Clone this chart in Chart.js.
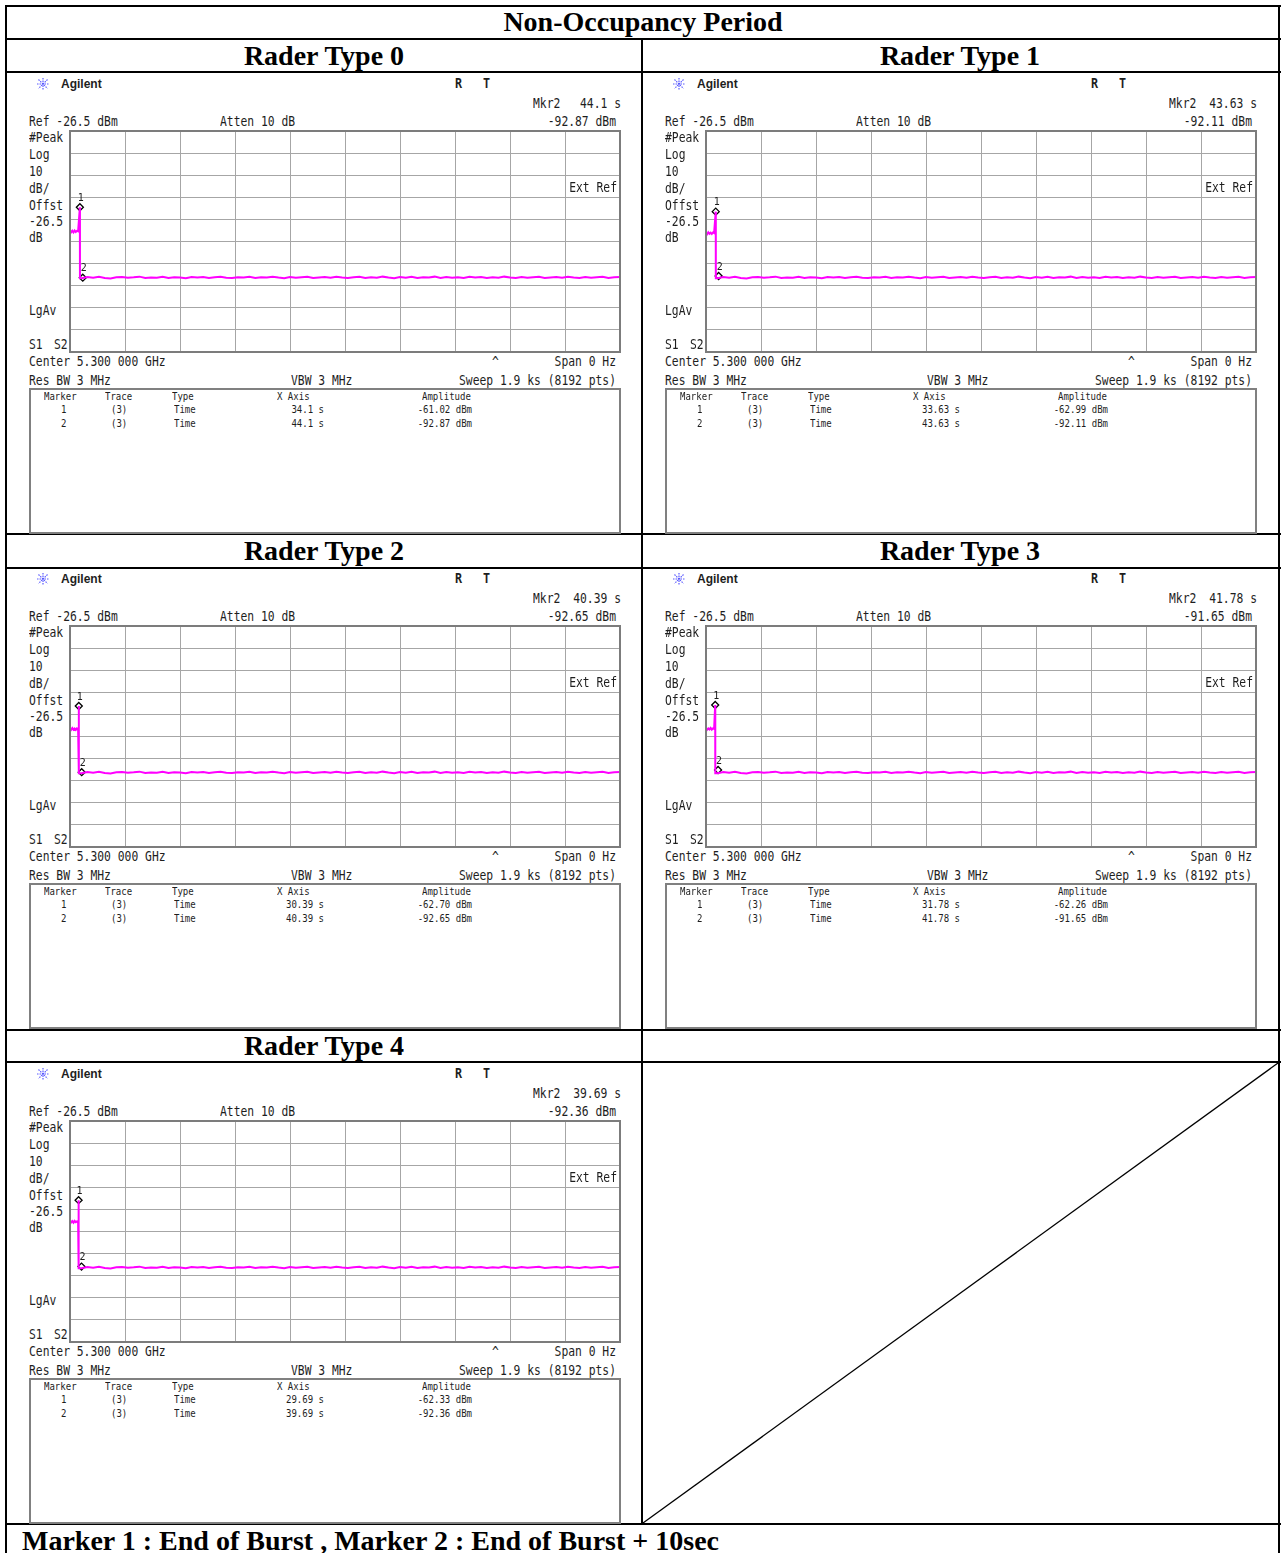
<!DOCTYPE html>
<html>
<head>
<meta charset="utf-8">
<script src="https://cdn.jsdelivr.net/npm/chart.js@4.4.1/dist/chart.umd.min.js"></script>
<style>
body{margin:0;background:#fff}
#page{position:relative;width:1281px;height:1553px;overflow:hidden;background:#fff}
.ln{position:absolute;background:#000}
.ttl{position:absolute;font:bold 28px "Liberation Serif","Times New Roman",serif;white-space:nowrap;line-height:30px;color:#000}
.c{transform:translate(-50%,-50%)}
.t{position:absolute;font:13.5px "DejaVu Sans Mono",monospace;line-height:14px;white-space:nowrap;color:#1e1e1e;transform-origin:0 50%;transform:scaleX(0.84)}
.s{font-size:11px;line-height:12px;transform:scaleX(0.82)}
.b{font:bold 12px "Liberation Sans",Arial,sans-serif;transform:none}
.bm{font-weight:bold;font-size:14px}
.r{transform-origin:100% 50%;transform:translateX(-100%) scaleX(0.84)}
.s.r{transform:translateX(-100%) scaleX(0.82)}
canvas{position:absolute}
.box{position:absolute;border:2px solid #808080;box-sizing:border-box}
</style>
</head>
<body>
<div id="page"></div>
<script>
// marker readouts of the five screenshots
const titles = ['Rader Type 0', 'Rader Type 1', 'Rader Type 2', 'Rader Type 3', 'Rader Type 4'];
const mkr1Time = [34.1, 33.63, 30.39, 31.78, 29.69];
const mkr1Amp = [-61.02, -62.99, -62.70, -62.26, -62.33];
const mkr2Time = [44.1, 43.63, 40.39, 41.78, 39.69];
const mkr2Amp = [-92.87, -92.11, -92.65, -91.65, -92.36];

// trace level while the burst is on
const burstTime = [0, 4, 8, 12, 16, 20, 24, 28];
const burstAmp = [
    [-71.4, -72.3, -71.6, -72.4, -71.5, -72.2, -71.7, -71.9],
    [-72.4, -73.2, -72.3, -73.0, -72.5, -73.1, -72.4, -72.7],
    [-72.8, -73.5, -72.7, -73.4, -72.9, -73.5, -72.8, -73.1],
    [-72.7, -73.4, -72.8, -73.3, -72.6, -73.4, -72.8, -73.0],
    [-71.6, -72.4, -71.8, -72.5, -71.7, -72.3, -71.9, -72.1]
];

// noise floor after the burst (same on every plot)
const floorTime = [40, 60, 80, 100, 120, 140, 160, 180, 200, 220, 240, 260, 280, 300, 320, 340, 360, 380,
    400, 420, 440, 460, 480, 500, 520, 540, 560, 580, 600, 620, 640, 660, 680, 700, 720, 740, 760,
    780, 800, 820, 840, 860, 880, 900, 920, 940, 960, 980, 1000, 1020, 1040, 1060, 1080, 1100, 1120,
    1140, 1160, 1180, 1200, 1220, 1240, 1260, 1280, 1300, 1320, 1340, 1360, 1380, 1400, 1420, 1440,
    1460, 1480, 1500, 1520, 1540, 1560, 1580, 1600, 1620, 1640, 1660, 1680, 1700, 1720, 1740, 1760,
    1780, 1800, 1820, 1840, 1860, 1880, 1900];
const floorAmp = [-93.1, -92.6, -92.9, -92.5, -93.0, -93.2, -92.7, -92.6, -92.9, -92.7, -92.4, -93.0,
    -92.8, -92.9, -92.5, -93.0, -92.7, -92.8, -93.1, -92.6, -92.8, -92.6, -93.0, -92.7,
    -92.5, -92.9, -93.0, -92.7, -92.8, -92.5, -93.0, -92.7, -92.8, -92.4, -92.8, -93.1,
    -92.6, -92.9, -92.7, -92.5, -93.0, -92.8, -92.6, -92.9, -92.5, -92.8, -93.0, -92.7,
    -92.5, -93.0, -92.7, -92.9, -92.4, -92.8, -93.1, -92.6, -92.9, -92.5, -93.0, -92.7,
    -92.8, -92.4, -93.0, -92.6, -92.9, -92.7, -93.0, -92.5, -92.8, -92.6, -93.0, -92.7,
    -92.9, -92.4, -92.8, -93.0, -92.6, -92.9, -92.7, -92.5, -93.0, -92.8, -92.6, -92.9,
    -92.5, -92.8, -93.0, -92.6, -92.9, -92.7, -92.5, -93.0, -92.7, -92.6];

// analyzer grid: 1.9 ks sweep, ref -26.5 dBm, 10 dB/div
const xGrid = [0, 190, 380, 570, 760, 950, 1140, 1330, 1520, 1710, 1900];
const yGrid = [-126.5, -116.5, -106.5, -96.5, -86.5, -76.5, -66.5, -56.5, -46.5, -36.5, -26.5];
const sideLabels = [['#Peak', 137], ['Log', 154], ['10', 171], ['dB/', 188], ['Offst', 205], ['-26.5', 221], ['dB', 237], ['LgAv', 310]];

const page = document.getElementById('page');

function el(tag, cls, x, y, text) {
    const e = document.createElement(tag);
    if (cls) e.className = cls;
    e.style.left = x + 'px';
    e.style.top = y + 'px';
    if (text !== undefined) e.textContent = text;
    page.appendChild(e);
    return e;
}
function txt(x, y, s, cls) {
    return el('div', 't' + (cls ? ' ' + cls : ''), x, y - 7, s);
}
function small(x, y, s, right) {
    return el('div', 't s' + (right ? ' r' : ''), x, y - 6, s);
}
function line(x, y, w, h) {
    const e = el('div', 'ln', x, y);
    e.style.width = w + 'px';
    e.style.height = h + 'px';
}

// table frame
[5, 38, 71, 533, 567, 1029, 1061, 1523].forEach(y => line(5, y, 1276, 2));
line(5, 5, 2, 1548);
line(1278, 5, 2, 1548);
line(641, 38, 2, 1487);

el('div', 'ttl c', 643, 22, 'Non-Occupancy Period');
el('div', 'ttl', 22, 1526, 'Marker 1 : End of Burst , Marker 2 : End of Burst + 10sec');

// empty cell diagonal
const svgNS = 'http://www.w3.org/2000/svg';
const diag = document.createElementNS(svgNS, 'svg');
diag.setAttribute('width', 1281);
diag.setAttribute('height', 1553);
diag.style.position = 'absolute';
diag.style.left = '0px';
diag.style.top = '0px';
diag.innerHTML = '<line x1="643" y1="1523" x2="1278" y2="1063" stroke="#000" stroke-width="1.3"/>';
page.appendChild(diag);

const markerNumbers = {
    id: 'markerNumbers',
    afterDatasetsDraw(chart) {
        const ctx = chart.ctx;
        ctx.save();
        ctx.font = '10px "DejaVu Sans Mono"';
        ctx.fillStyle = '#1e1e1e';
        ctx.textBaseline = 'bottom';
        chart.getDatasetMeta(1).data.forEach((pt, i) => ctx.fillText(String(i + 1), pt.x - 2, pt.y - 4));
        ctx.restore();
    }
};
const frame = {
    id: 'frame',
    afterDraw(chart) {
        const a = chart.chartArea, ctx = chart.ctx;
        ctx.save();
        ctx.strokeStyle = '#7c7c7c';
        ctx.lineWidth = 2;
        ctx.strokeRect(a.left, a.top, a.right - a.left, a.bottom - a.top);
        ctx.restore();
    }
};

function drawPanel(i) {
    const ox = (i % 2) * 636, oy = Math.floor(i / 2) * 495;
    el('div', 'ttl c', 324 + ox, 56 + oy, titles[i]);

    // Agilent logo
    const logo = document.createElementNS(svgNS, 'svg');
    logo.setAttribute('width', 14);
    logo.setAttribute('height', 14);
    logo.style.position = 'absolute';
    logo.style.left = (36 + ox) + 'px';
    logo.style.top = (77 + oy) + 'px';
    logo.innerHTML = '<g stroke="#5a5aff" stroke-width="1.2" stroke-dasharray="1.5 1">' +
        '<line x1="7" y1="1" x2="7" y2="13"/><line x1="1" y1="7" x2="13" y2="7"/>' +
        '<line x1="2.5" y1="2.5" x2="11.5" y2="11.5"/><line x1="11.5" y1="2.5" x2="2.5" y2="11.5"/></g>';
    page.appendChild(logo);
    txt(61 + ox, 84 + oy, 'Agilent', 'b');
    txt(455 + ox, 83 + oy, 'R', 'bm');
    txt(483 + ox, 83 + oy, 'T', 'bm');

    txt(533 + ox, 103 + oy, 'Mkr2');
    txt(621 + ox, 103 + oy, mkr2Time[i] + ' s', 'r');
    txt(29 + ox, 121 + oy, 'Ref -26.5 dBm');
    txt(220 + ox, 121 + oy, 'Atten 10 dB');
    txt(616 + ox, 121 + oy, mkr2Amp[i].toFixed(2) + ' dBm', 'r');
    sideLabels.forEach(s => txt(29 + ox, s[1] + oy, s[0]));
    txt(29 + ox, 344 + oy, 'S1');
    txt(54 + ox, 344 + oy, 'S2');

    txt(29 + ox, 361 + oy, 'Center 5.300 000 GHz');
    txt(492 + ox, 362 + oy, '^');
    txt(616 + ox, 361 + oy, 'Span 0 Hz', 'r');
    txt(29 + ox, 380 + oy, 'Res BW 3 MHz');
    txt(291 + ox, 380 + oy, 'VBW 3 MHz');
    txt(616 + ox, 380 + oy, 'Sweep 1.9 ks (8192 pts)', 'r');

    const box = el('div', 'box', 29 + ox, 388 + oy);
    box.style.width = '592px';
    box.style.height = '146px';
    small(44 + ox, 397 + oy, 'Marker');
    small(105 + ox, 397 + oy, 'Trace');
    small(172 + ox, 397 + oy, 'Type');
    small(277 + ox, 397 + oy, 'X Axis');
    small(422 + ox, 397 + oy, 'Amplitude');
    [[mkr1Time[i], mkr1Amp[i]], [mkr2Time[i], mkr2Amp[i]]].forEach((m, k) => {
        const y = 410 + k * 14 + oy;
        small(61 + ox, y, String(k + 1));
        small(111 + ox, y, '(3)');
        small(174 + ox, y, 'Time');
        small(324 + ox, y, m[0] + ' s', true);
        small(472 + ox, y, m[1].toFixed(2) + ' dBm', true);
    });

    const cv = document.createElement('canvas');
    cv.width = 552;
    cv.height = 223;
    cv.style.left = (69 + ox) + 'px';
    cv.style.top = (130 + oy) + 'px';
    page.appendChild(cv);
    // Ext Ref sits on top of the plot
    txt(617 + ox, 187 + oy, 'Ext Ref', 'r');

    const trace = burstTime.map((t, k) => ({ x: t, y: burstAmp[i][k] }));
    trace.push({ x: mkr1Time[i], y: mkr1Amp[i] });
    trace.push({ x: mkr1Time[i] + 0.3, y: floorAmp[0] });
    floorTime.forEach((t, k) => trace.push({ x: t, y: floorAmp[k] }));

    new Chart(cv, {
        type: 'line',
        data: {
            datasets: [{
                data: trace,
                borderColor: '#ff00ff',
                borderWidth: 2,
                pointRadius: 0,
                tension: 0
            }, {
                data: [{ x: mkr1Time[i], y: mkr1Amp[i] }, { x: mkr2Time[i], y: mkr2Amp[i] }],
                showLine: false,
                pointStyle: 'rectRot',
                pointRadius: 3.5,
                borderColor: '#000',
                borderWidth: 1.3,
                backgroundColor: '#fff'
            }]
        },
        options: {
            responsive: false,
            animation: false,
            layout: { padding: 1, autoPadding: false },
            plugins: { legend: { display: false }, tooltip: { enabled: false } },
            scales: {
                x: {
                    type: 'linear', min: 0, max: 1900,
                    afterBuildTicks: s => { s.ticks = xGrid.map(v => ({ value: v })); },
                    afterFit: s => { s.height = 0; },
                    ticks: { display: false },
                    grid: { color: '#a6a6a6', lineWidth: 1, drawTicks: false },
                    border: { display: false }
                },
                y: {
                    type: 'linear', min: -126.5, max: -26.5,
                    afterBuildTicks: s => { s.ticks = yGrid.map(v => ({ value: v })); },
                    afterFit: s => { s.width = 0; },
                    ticks: { display: false },
                    grid: { color: '#a6a6a6', lineWidth: 1, drawTicks: false },
                    border: { display: false }
                }
            }
        },
        plugins: [markerNumbers, frame]
    });
}

for (let i = 0; i < titles.length; i++) drawPanel(i);
</script>
</body>
</html>
